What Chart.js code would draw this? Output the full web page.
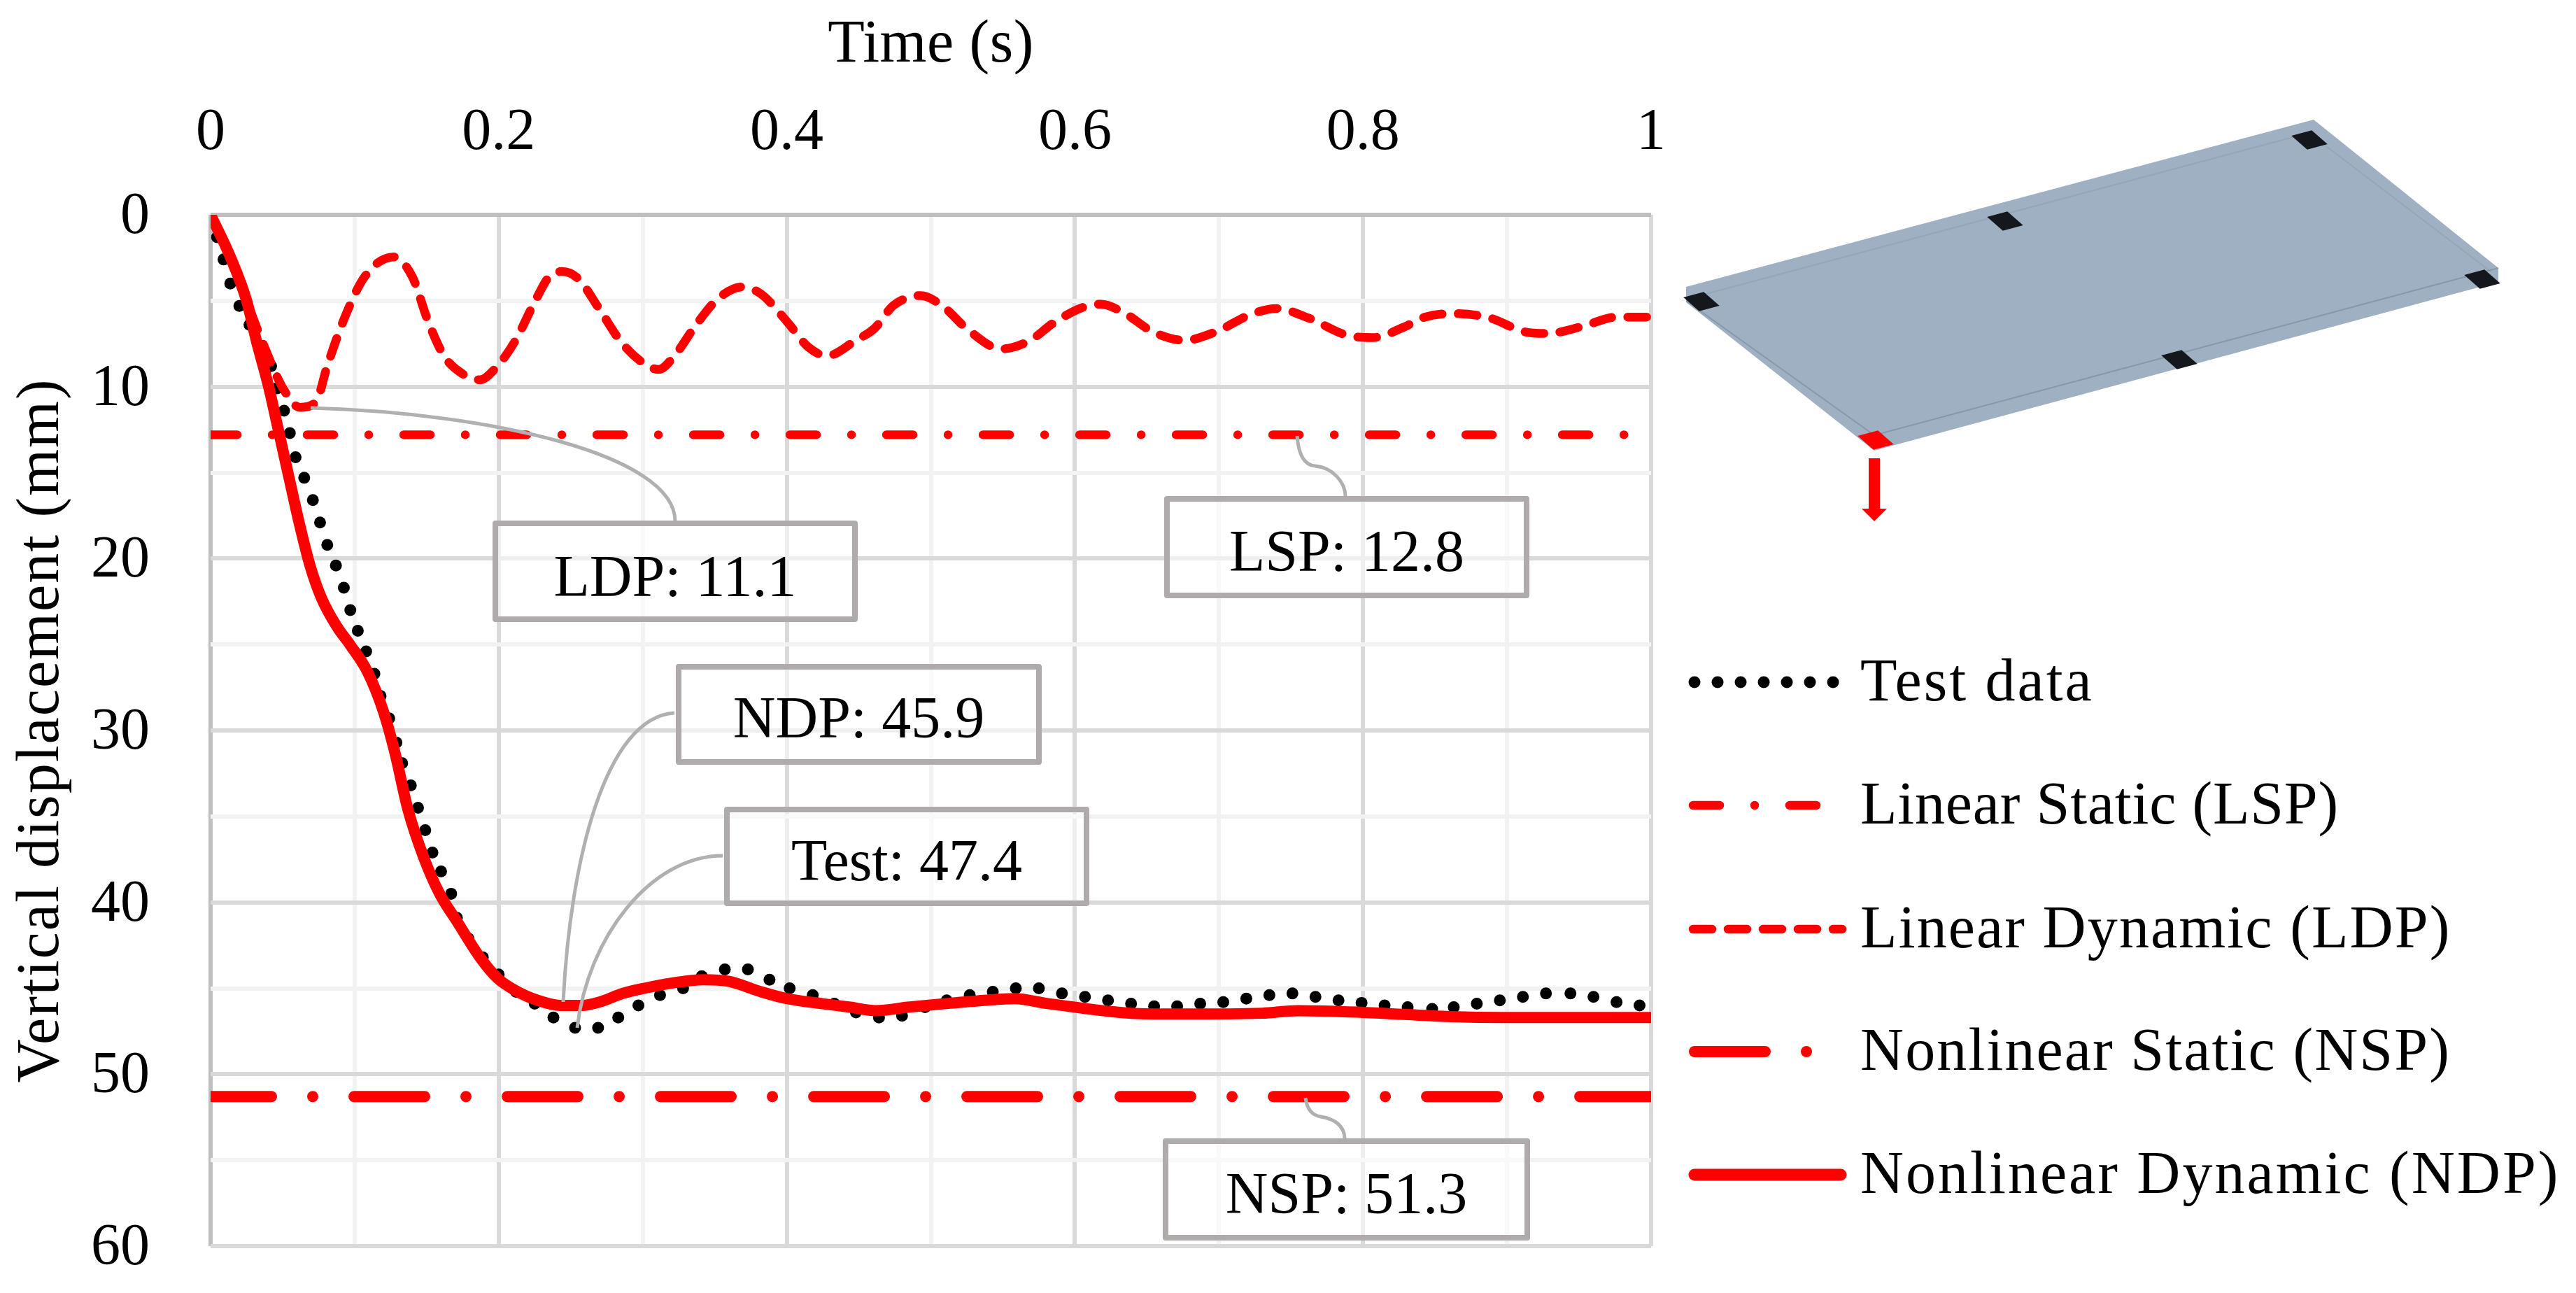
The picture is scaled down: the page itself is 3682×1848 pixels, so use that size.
<!DOCTYPE html>
<html><head><meta charset="utf-8">
<script src="https://cdn.jsdelivr.net/npm/chart.js@4"></script>
<style>html,body{margin:0;padding:0;background:#fff}canvas{display:block}</style>
</head><body>
<canvas id="c" width="3682" height="1848"></canvas>
<script>
const xTitle = 'Time (s)';
const yTitle = 'Vertical displacement (mm)';
const legendNames = ['Test data','Linear Static (LSP)','Linear Dynamic (LDP)','Nonlinear Static (NSP)','Nonlinear Dynamic (NDP)'];
const calloutTexts = ['LDP: 11.1','LSP: 12.8','NDP: 45.9','Test: 47.4','NSP: 51.3'];

const testTime = [0.0045,0.009,0.0137,0.020,0.027,0.034,0.042,0.046,0.051,0.055,0.059,0.065,0.071,0.076,0.081,0.087,0.0925,0.097,0.1022,0.108,0.1137,0.118,0.124,0.129,0.133,0.139,0.144,0.149,0.154,0.160,0.167,0.171,0.179,0.189,0.2,0.212,0.225,0.238,0.253,0.269,0.283,0.297,0.312,0.328,0.341,0.357,0.373,0.388,0.402,0.418,0.433,0.448,0.464,0.480,0.496,0.511,0.527,0.543,0.559,0.575,0.591,0.607,0.623,0.639,0.655,0.671,0.687,0.703,0.719,0.735,0.751,0.767,0.783,0.799,0.815,0.831,0.848,0.863,0.879,0.895,0.911,0.927,0.944,0.960,0.976,0.992];
const testDisp = [1.3,2.6,4.0,5.3,6.4,7.6,8.8,10.1,11.4,12.7,14.1,15.3,16.6,17.9,19.2,20.4,21.7,23,24.2,25.4,26.7,28,29.3,30.7,31.9,33.2,34.5,35.8,37.1,38.2,39.5,40.9,42.1,43.2,44.2,45.2,45.9,46.7,47.3,47.3,46.7,46.0,45.4,45.0,44.3,43.9,43.9,44.5,45.0,45.4,45.9,46.4,46.7,46.6,46.1,45.7,45.4,45.2,45,45.0,45.3,45.5,45.7,45.9,46.05,46.05,45.9,45.8,45.6,45.4,45.3,45.5,45.7,45.85,46,46.1,46.2,46.1,45.9,45.7,45.5,45.3,45.3,45.5,45.8,46.0];

const lspTime = [0,0.982];
const lspDisp = [12.8,12.8];

const ldpTime = [0,0.0137,0.025,0.036,0.051,0.062,0.073,0.081,0.092,0.107,0.127,0.140,0.151,0.162,0.174,0.187,0.198,0.211,0.226,0.235,0.244,0.255,0.270,0.285,0.300,0.311,0.322,0.337,0.352,0.369,0.382,0.400,0.415,0.428,0.448,0.461,0.474,0.493,0.509,0.525,0.549,0.569,0.585,0.606,0.618,0.634,0.654,0.676,0.698,0.722,0.740,0.762,0.791,0.807,0.828,0.843,0.863,0.888,0.912,0.928,0.952,0.976,1.0];
const ldpDisp = [0,2.45,5.0,7.4,10.2,11.2,10.9,8.8,6.2,3.6,2.45,3.6,6.2,8.2,9.2,9.6,8.9,7.4,4.9,3.6,3.3,3.7,5.5,7.4,8.6,9.0,8.2,6.4,4.9,4.2,4.6,6.2,7.7,8.2,7.3,6.6,5.28,4.7,5.37,6.63,7.8,7.3,6.3,5.37,5.2,5.7,6.8,7.3,6.8,5.8,5.45,6.0,7.05,7.14,6.55,5.95,5.75,6.0,6.8,6.9,6.5,5.95,5.95];

const nspTime = [0,1];
const nspDisp = [51.3,51.3];

const ndpTime = [0,0.0137,0.025,0.032,0.040,0.047,0.055,0.062,0.069,0.077,0.088,0.0967,0.109,0.120,0.128,0.137,0.148,0.159,0.171,0.187,0.199,0.211,0.227,0.243,0.258,0.270,0.286,0.301,0.320,0.342,0.360,0.382,0.400,0.425,0.444,0.462,0.484,0.509,0.537,0.558,0.582,0.655,0.674,0.730,0.755,0.800,0.861,0.897,1.0];
const ndpDisp = [0,2.45,5.0,7.4,9.9,12.5,15.5,18.1,20.4,22.3,24,25.0,26.6,28.9,31.3,34.6,37.4,39.5,41.1,43.2,44.4,45.1,45.7,46.0,46.0,45.8,45.3,45.0,44.7,44.5,44.6,45.2,45.6,45.9,46.1,46.3,46.1,45.9,45.7,45.6,45.9,46.5,46.5,46.45,46.3,46.4,46.65,46.7,46.7];

const pts = (t,d) => t.map((x,i) => ({x, y:d[i]}));
const SERIF = '"Liberation Serif"';
const RED = '#ff0000';
const lspDash = [38,50,0.01,50];
const ldpDash = [27,23];
const nspDash = [101,59,0.01,59];
const testDash = [0.01,33];
const plotBottom = 1781;

const boxes = [[708,748,1222,885],[1668,713,2182,851],[970,953,1485,1089],[1039,1157,1553,1291],[1666,1631,2183,1769]];
const boxTextDy = [13,12,11,12,12];
const connectors = [
  [[444,583,700,590,965,650,965,745]],
  [[1854,623,1856,650,1865,665,1880,666],[1880,666,1905,668,1923,690,1923,709]],
  [[805,1432,815,1230,865,1025,964,1019]],
  [[825,1469,840,1340,930,1223,1033,1223]],
  [[1866,1569,1868,1585,1875,1594,1888,1596],[1888,1596,1908,1599,1922,1610,1922,1627]]
];
const legendSpacing = ['3px','0.8px','2.1px','2.1px','3px'];

const decorations = {
  id:'decorations',
  afterLayout(chart){
    const sp = {x:'0.5px', y:'2px'};
    for (const k of ['x','y']) {
      const s = chart.scales[k];
      if (s._patched) continue;
      const orig = s.drawTitle;
      s.drawTitle = function(){ chart.ctx.letterSpacing = sp[k]; orig.call(this); chart.ctx.letterSpacing = '0px'; };
      s._patched = true;
    }
    const y = chart.scales.y, a = chart.chartArea;
    y.bottom = plotBottom; y.height = plotBottom - y.top; y.configure();
    a.bottom = plotBottom; a.height = plotBottom - a.top;
  },
  afterDraw(chart){
    const ctx = chart.ctx;
    ctx.save();
    ctx.strokeStyle = '#b0b0b0'; ctx.lineWidth = 5; ctx.lineCap='butt';
    connectors.forEach(c => {
      ctx.beginPath(); ctx.moveTo(c[0][0],c[0][1]);
      c.forEach(p => ctx.bezierCurveTo(p[2],p[3],p[4],p[5],p[6],p[7]));
      ctx.stroke();
    });
    boxes.forEach((b,i) => {
      ctx.fillStyle = 'rgba(255,255,255,0.55)';
      ctx.fillRect(b[0],b[1],b[2]-b[0],b[3]-b[1]);
      ctx.strokeStyle = '#afabab'; ctx.lineWidth = 8; ctx.lineJoin='round';
      ctx.strokeRect(b[0],b[1],b[2]-b[0],b[3]-b[1]);
      ctx.fillStyle = '#000'; ctx.font = '84px '+SERIF; ctx.textAlign='center'; ctx.textBaseline='middle';
      ctx.fillText(calloutTexts[i], (b[0]+b[2])/2, (b[1]+b[3])/2+boxTextDy[i]);
    });
    const rows = [975,1151,1328,1503,1679];
    const samples = [
      {dash:testDash,w:17,c:'#000',x0:2422,x1:2640},
      {dash:lspDash,w:12.5,c:RED,x0:2420,x1:2606},
      {dash:ldpDash,w:12.5,c:RED,x0:2420,x1:2633},
      {dash:nspDash,w:16,c:RED,x0:2422,x1:2590},
      {dash:[],w:17,c:RED,x0:2422,x1:2631}
    ];
    samples.forEach((s,i) => {
      ctx.strokeStyle=s.c; ctx.lineWidth=s.w; ctx.lineCap='round'; ctx.setLineDash(s.dash);
      ctx.beginPath(); ctx.moveTo(s.x0,rows[i]); ctx.lineTo(s.x1,rows[i]); ctx.stroke();
      ctx.setLineDash([]);
      ctx.fillStyle='#000'; ctx.font='86px '+SERIF; ctx.textAlign='left'; ctx.textBaseline='middle';
      ctx.letterSpacing=legendSpacing[i];
      ctx.fillText(legendNames[i],2659,rows[i]+3);
      ctx.letterSpacing='0px';
    });
    const poly = (p,fill) => { ctx.beginPath(); p.forEach((q,i)=> i?ctx.lineTo(q[0],q[1]):ctx.moveTo(q[0],q[1])); ctx.closePath(); ctx.fillStyle=fill; ctx.fill(); };
    poly([[2410,410],[3307,171],[3571,383],[3571,403],[2679,644],[2410,432]],'#9fb0c2');
    ctx.strokeStyle='rgba(120,136,152,0.6)'; ctx.lineWidth=2; ctx.lineCap='butt';
    ctx.beginPath(); ctx.moveTo(2410,430); ctx.lineTo(2679,622); ctx.lineTo(3571,383); ctx.stroke();
    ctx.strokeStyle='rgba(120,136,152,0.25)';
    ctx.beginPath(); ctx.moveTo(2424,424); ctx.lineTo(3300,190); ctx.lineTo(3560,388); ctx.stroke();
    const ux=0.966, uy=-0.258, vx=0.75, vy=0.66, hu=15, hv=15;
    const pad = (cx,cy,c) => poly([
      [cx-hu*ux-hv*vx, cy-hu*uy-hv*vy],[cx+hu*ux-hv*vx, cy+hu*uy-hv*vy],
      [cx+hu*ux+hv*vx, cy+hu*uy+hv*vy],[cx-hu*ux+hv*vx, cy-hu*uy+hv*vy]],c);
    [[2432,431],[2866,316],[3301,200],[3548,399],[3115,514]].forEach(p=>pad(p[0],p[1],'#14181d'));
    pad(2681,629,RED);
    ctx.fillStyle=RED; ctx.fillRect(2671,655,16,72);
    poly([[2661,727],[2697,727],[2679,745]],RED);
    ctx.restore();
  }
};

new Chart(document.getElementById('c').getContext('2d'), {
  type:'line',
  data:{datasets:[
    {label:legendNames[0],data:pts(testTime,testDisp),showLine:false,pointRadius:8.5,pointBackgroundColor:'#000',pointBorderWidth:0,order:5},
    {label:legendNames[1],data:pts(lspTime,lspDisp),borderColor:RED,borderWidth:12.5,borderDash:lspDash,borderCapStyle:'round',pointRadius:0,order:4},
    {label:legendNames[2],data:pts(ldpTime,ldpDisp),borderColor:RED,borderWidth:12.5,borderDash:ldpDash,borderCapStyle:'round',cubicInterpolationMode:'monotone',pointRadius:0,order:3},
    {label:legendNames[3],data:pts(nspTime,nspDisp),borderColor:RED,borderWidth:16,borderDash:nspDash,borderDashOffset:14,borderCapStyle:'round',pointRadius:0,order:2},
    {label:legendNames[4],data:pts(ndpTime,ndpDisp),borderColor:RED,borderWidth:16,borderCapStyle:'butt',cubicInterpolationMode:'monotone',pointRadius:0,order:1}
  ]},
  options:{
    responsive:false, animation:false, devicePixelRatio:1,
    layout:{autoPadding:false,padding:{left:0,top:0,right:1322,bottom:67}},
    plugins:{legend:{display:false},tooltip:{enabled:false}},
    scales:{
      x:{type:'linear',position:'top',min:0,max:1,
        afterFit(s){s.height=307;},
        title:{display:true,text:xTitle,color:'#000',font:{family:SERIF,size:86},padding:{top:14,bottom:0}},
        border:{display:false},
        grid:{drawTicks:false,lineWidth:6,
          color:c=>{const v=Math.round(c.tick.value*10);return v===0?'#bfbfbf':(v%2===0?'#d9d9d9':'#f2f2f2');}},
        ticks:{stepSize:0.1,autoSkip:false,maxRotation:0,color:'#000',padding:66,font:{family:SERIF,size:84},
          callback:v=>{const k=Math.round(v*10);return k%2===0?String(k/10):'';}}
      },
      y:{type:'linear',reverse:true,min:0,max:60,
        afterFit(s){s.width=301;},
        title:{display:true,text:yTitle,color:'#000',font:{family:SERIF,size:86},padding:{top:9,bottom:0}},
        border:{display:false},
        grid:{drawTicks:false,lineWidth:6,
          color:c=>{const v=Math.round(c.tick.value);return v===0?'#bfbfbf':(v%10===0?'#d9d9d9':'#f2f2f2');}},
        ticks:{stepSize:5,autoSkip:false,color:'#000',padding:87,labelOffset:4,font:{family:SERIF,size:84},
          callback:v=>v%10===0?String(v):''}
      }
    }
  },
  plugins:[decorations]
});
</script>
</body></html>
